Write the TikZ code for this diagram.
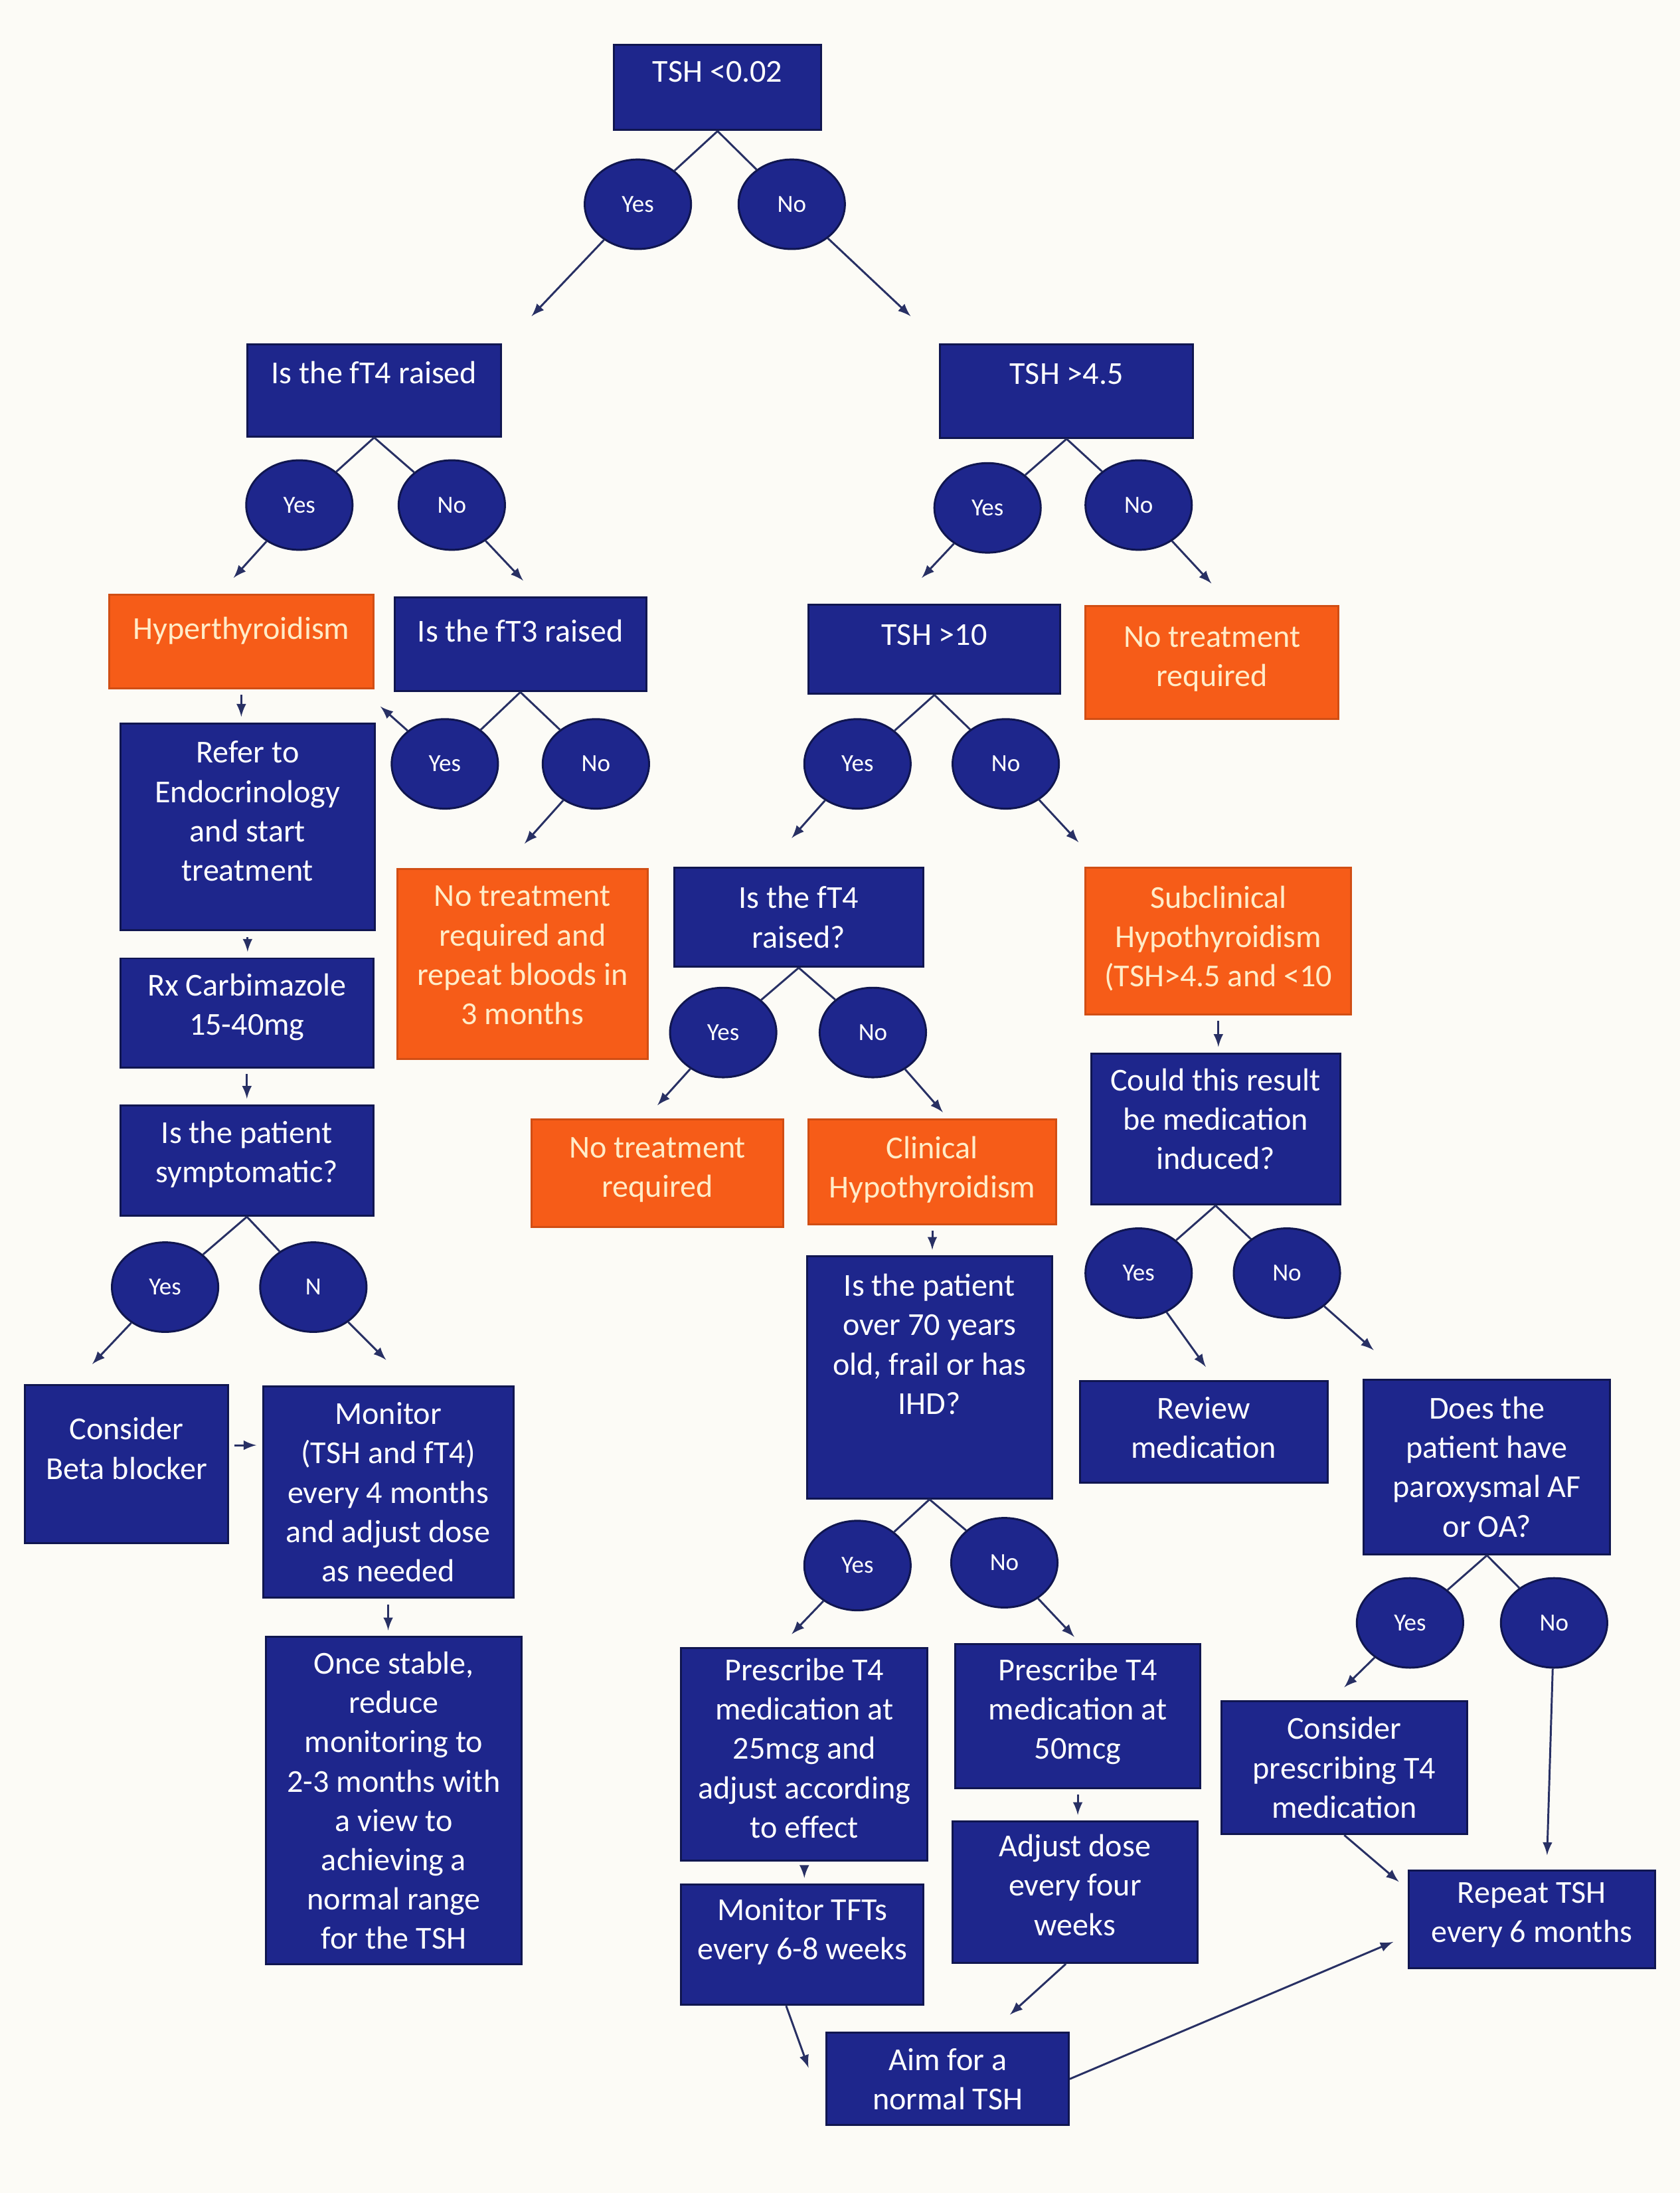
\documentclass[tikz,border=0pt]{standalone}
\usepackage{fontspec}
\setmainfont{Carlito}
\usetikzlibrary{shapes.geometric}
\definecolor{boxblue}{RGB}{30,38,140}
\definecolor{boxorange}{RGB}{246,92,24}
\definecolor{edgeblue}{RGB}{16,22,80}
\definecolor{linec}{RGB}{40,48,100}
\definecolor{creamtext}{RGB}{255,236,200}
\definecolor{paper}{RGB}{252,251,246}

\begin{document}
\begin{tikzpicture}[x=0.2mm, y=-0.2mm,
    bluebox/.style={rectangle, draw=edgeblue, line width=0.8pt, fill=boxblue, text=white,
        align=center, inner sep=1mm, font=\fontsize{13}{16}\selectfont},
    orangebox/.style={bluebox, fill=boxorange, draw=boxorange!85!black, text=creamtext},
    textup/.style={text depth=#1},
    oval/.style={ellipse, draw=edgeblue, line width=0.8pt, fill=boxblue, text=white,
        minimum width=15.2mm, minimum height=12.8mm, inner sep=0pt, font=\fontsize{10}{12}\selectfont},
    link/.style={draw=linec, line width=0.8pt},
    arr/.style={link, -latex},
    sarr/.style={arr, shorten <=0.8mm, shorten >=0.8mm}]

    \fill[paper] (0,0) rectangle (1201,1567.5);
    \useasboundingbox (0,0) rectangle (1201,1567.5);

    % first question
    \node[bluebox, textup=4.5mm, minimum width=29.6mm, minimum height=12.2mm] (tsha) at (513,62.5) {TSH <0.02};
    \node[oval] (tshaY) at (456,146) {Yes};
    \node[oval] (tshaN) at (566,146) {No};
    \draw[link] (tsha.south) -- (tshaY);
    \draw[link] (tsha.south) -- (tshaN);
    \coordinate (ftin) at (380,226);
    \coordinate (tshbin) at (651,226);
    \draw[arr] (tshaY) -- (ftin);
    \draw[arr] (tshaN) -- (tshbin);

    % left branch
    \node[bluebox, textup=5.2mm, minimum width=36.2mm, minimum height=13.2mm] (ftfour) at (267.5,279) {Is the fT4 raised};
    \node[oval] (ftfourY) at (214,361) {Yes};
    \node[oval] (ftfourN) at (323,361) {No};
    \draw[link] (ftfour.south) -- (ftfourY);
    \draw[link] (ftfour.south) -- (ftfourN);
    \coordinate (hyperin) at (167,413);
    \coordinate (ftthreein) at (374,415);
    \draw[arr] (ftfourY) -- (hyperin);
    \draw[arr] (ftfourN) -- (ftthreein);

    \node[orangebox, textup=3.8mm, minimum width=37.8mm, minimum height=13.4mm] (hyper) at (172.5,458.5) {Hyperthyroidism};
    \node[bluebox, textup=3.8mm, minimum width=36mm, minimum height=13.4mm] (ftthree) at (372,460.5) {Is the fT3 raised};
    \node[oval] (ftthreeY) at (318,546) {Yes};
    \node[oval] (ftthreeN) at (426,546) {No};
    \draw[link] (ftthree.south) -- (ftthreeY);
    \draw[link] (ftthree.south) -- (ftthreeN);
    \coordinate (hyperback) at (272,505);
    \coordinate (repeatbin) at (375,603);
    \draw[arr] (ftthreeY) -- (hyperback);
    \draw[arr] (ftthreeN) -- (repeatbin);

    \node[bluebox, textup=4.5mm, minimum width=36.4mm, minimum height=29.6mm] (refer) at (177,591) {Refer to\\Endocrinology\\and start\\treatment};
    \node[orangebox, textup=2.5mm, minimum width=35.8mm, minimum height=27.2mm] (repeatb) at (373.5,689) {No treatment\\required and\\repeat bloods in\\3 months};
    \node[bluebox, textup=2.5mm, minimum width=36.2mm, minimum height=15.6mm] (carbi) at (176.5,724) {Rx Carbimazole\\15-40mg};
    \node[bluebox, textup=2.5mm, minimum width=36.2mm, minimum height=15.8mm] (symp) at (176.5,829.5) {Is the patient\\symptomatic?};
    \draw[sarr] (hyper.south) -- (hyper.south |- refer.north);
    \draw[sarr] (refer.south) -- (refer.south |- carbi.north);
    \draw[sarr] (carbi.south) -- (carbi.south |- symp.north);

    \node[oval] (sympY) at (118,920) {Yes};
    \node[oval] (sympN) at (224,920) {N};
    \draw[link] (symp.south) -- (sympY);
    \draw[link] (symp.south) -- (sympN);
    \coordinate (betain) at (66,975);
    \coordinate (monin) at (276,972);
    \draw[arr] (sympY) -- (betain);
    \draw[arr] (sympN) -- (monin);

    \node[bluebox, textup=4.5mm, minimum width=29mm, minimum height=22.6mm] (beta) at (90.5,1046.5) {Consider\\Beta blocker};
    \node[bluebox, minimum width=35.8mm, minimum height=30.2mm] (monitor) at (277.5,1066.5) {Monitor\\(TSH and fT4)\\every 4 months\\and adjust dose\\as needed};
    \node[bluebox, minimum width=36.6mm, minimum height=46.8mm] (stable) at (281.5,1287) {Once stable,\\reduce\\monitoring to\\2-3 months with\\a view to\\achieving a\\normal range\\for the TSH};
    \draw[sarr] ([yshift=2.7mm]beta.east) -- ([yshift=2.7mm]beta.east -| monitor.west);
    \draw[sarr] (monitor.south) -- (monitor.south |- stable.north);

    % right branch
    \node[bluebox, textup=4.9mm, minimum width=36.2mm, minimum height=13.4mm] (tshb) at (762.5,279.5) {TSH >4.5};
    \node[oval] (tshbY) at (706,363) {Yes};
    \node[oval] (tshbN) at (814,361) {No};
    \draw[link] (tshb.south) -- (tshbY);
    \draw[link] (tshb.south) -- (tshbN);
    \coordinate (tshcin) at (659,413);
    \coordinate (notreataIn) at (866,417);
    \draw[arr] (tshbY) -- (tshcin);
    \draw[arr] (tshbN) -- (notreataIn);

    \node[bluebox, textup=4.1mm, minimum width=36mm, minimum height=12.8mm] (tshc) at (668,464) {TSH >10};
    \node[orangebox, textup=1.7mm, minimum width=36.2mm, minimum height=16.2mm] (notreata) at (866.5,473.5) {No treatment\\required};
    \node[oval] (tshcY) at (613,546) {Yes};
    \node[oval] (tshcN) at (719,546) {No};
    \draw[link] (tshc.south) -- (tshcY);
    \draw[link] (tshc.south) -- (tshcN);
    \coordinate (ftfourbin) at (566,599);
    \coordinate (subclinin) at (771,602);
    \draw[arr] (tshcY) -- (ftfourbin);
    \draw[arr] (tshcN) -- (subclinin);

    \node[bluebox, minimum width=35.6mm, minimum height=14.2mm] (ftfourb) at (571,655.5) {Is the fT4\\raised?};
    \node[oval] (ftfourbY) at (517,738) {Yes};
    \node[oval] (ftfourbN) at (624,738) {No};
    \draw[link] (ftfourb.south) -- (ftfourbY);
    \draw[link] (ftfourb.south) -- (ftfourbN);
    \coordinate (notreatbin) at (470,790);
    \coordinate (clinin) at (674,795);
    \draw[arr] (ftfourbY) -- (notreatbin);
    \draw[arr] (ftfourbN) -- (clinin);

    \node[orangebox, textup=1.7mm, minimum width=36mm, minimum height=15.4mm] (notreatb) at (470,838.5) {No treatment\\required};
    \node[orangebox, textup=1.3mm, minimum width=35.4mm, minimum height=15mm] (clin) at (666.5,837.5) {Clinical\\Hypothyroidism};
    \node[bluebox, textup=9.5mm, minimum width=35mm, minimum height=34.6mm] (elderly) at (664.5,984.5) {Is the patient\\over 70 years\\old, frail or has\\IHD?};
    \draw[sarr] (clin.south) -- (clin.south |- elderly.north);

    \node[oval] (elderlyY) at (613,1119) {Yes};
    \node[oval] (elderlyN) at (718,1117) {No};
    \draw[link] (elderly.south) -- (elderlyY);
    \draw[link] (elderly.south) -- (elderlyN);
    \coordinate (lowdosein) at (566,1168);
    \coordinate (highdosein) at (768,1170);
    \draw[arr] (elderlyY) -- (lowdosein);
    \draw[arr] (elderlyN) -- (highdosein);

    \node[bluebox, textup=1.8mm, minimum width=35.2mm, minimum height=30.4mm] (lowdose) at (575,1254) {Prescribe T4\\medication at\\25mcg and\\adjust according\\to effect};
    \node[bluebox, textup=2.1mm, minimum width=35mm, minimum height=20.6mm] (highdose) at (770.5,1226.5) {Prescribe T4\\medication at\\50mcg};
    \node[bluebox, textup=4.5mm, minimum width=34.6mm, minimum height=17.2mm] (tfts) at (573.5,1390) {Monitor TFTs\\every 6-8 weeks};
    \node[bluebox, textup=2.1mm, minimum width=35mm, minimum height=20.2mm] (adjust) at (768.5,1352.5) {Adjust dose\\every four\\weeks};
    \node[bluebox, minimum width=34.6mm, minimum height=13.2mm] (aim) at (677.5,1486) {Aim for a\\normal TSH};
    \draw[sarr] (lowdose.south) -- (lowdose.south |- tfts.north);
    \draw[sarr] (highdose.south) -- (highdose.south |- adjust.north);
    \coordinate (aimleft) at (578,1478);
    \coordinate (aimtop) at (722,1440);
    \draw[arr] ([xshift=-2.3mm]tfts.south) -- (aimleft);
    \draw[arr] ([xshift=-1.3mm]adjust.south) -- (aimtop);

    % subclinical branch
    \node[orangebox, textup=1.3mm, minimum width=38mm, minimum height=21mm] (subclin) at (871,672.5) {Subclinical\\Hypothyroidism\\(TSH>4.5 and <10};
    \node[bluebox, textup=2.9mm, minimum width=35.6mm, minimum height=21.6mm] (druginduced) at (869,807) {Could this result\\be medication\\induced?};
    \draw[sarr] (subclin.south) -- (subclin.south |- druginduced.north);
    \node[oval] (druginducedY) at (814,910) {Yes};
    \node[oval] (druginducedN) at (920,910) {No};
    \draw[link] (druginduced.south) -- (druginducedY);
    \draw[link] (druginduced.south) -- (druginducedN);
    \coordinate (reviewin) at (862,977);
    \coordinate (afin) at (982,965);
    \draw[arr] (druginducedY) -- (reviewin);
    \draw[arr] (druginducedN) -- (afin);

    \node[bluebox, textup=1.3mm, minimum width=35.4mm, minimum height=14.6mm] (review) at (860.5,1023.5) {Review\\medication};
    \node[bluebox, minimum width=35.2mm, minimum height=25mm] (af) at (1063,1048.5) {Does the\\patient have\\paroxysmal AF\\or OA?};
    \node[oval] (afY) at (1008,1160) {Yes};
    \node[oval] (afN) at (1111,1160) {No};
    \draw[link] (af.south) -- (afY);
    \draw[link] (af.south) -- (afN);
    \coordinate (considerin) at (961,1206);
    \coordinate (repeatatop) at (1106,1326);
    \draw[arr] (afY) -- (considerin);
    \draw[arr] (afN) -- (repeatatop);

    \node[bluebox, minimum width=35.2mm, minimum height=19mm] (consider) at (961,1263.5) {Consider\\prescribing T4\\medication};
    \node[bluebox, textup=2.1mm, minimum width=35.2mm, minimum height=14mm] (repeata) at (1095,1372) {Repeat TSH\\every 6 months};
    \coordinate (repeatacorner) at (1000,1345);
    \coordinate (repeataleft) at (996,1388);
    \draw[arr] (consider.south) -- (repeatacorner);
    \draw[arr] (aim.east) -- (repeataleft);
\end{tikzpicture}
\end{document}
